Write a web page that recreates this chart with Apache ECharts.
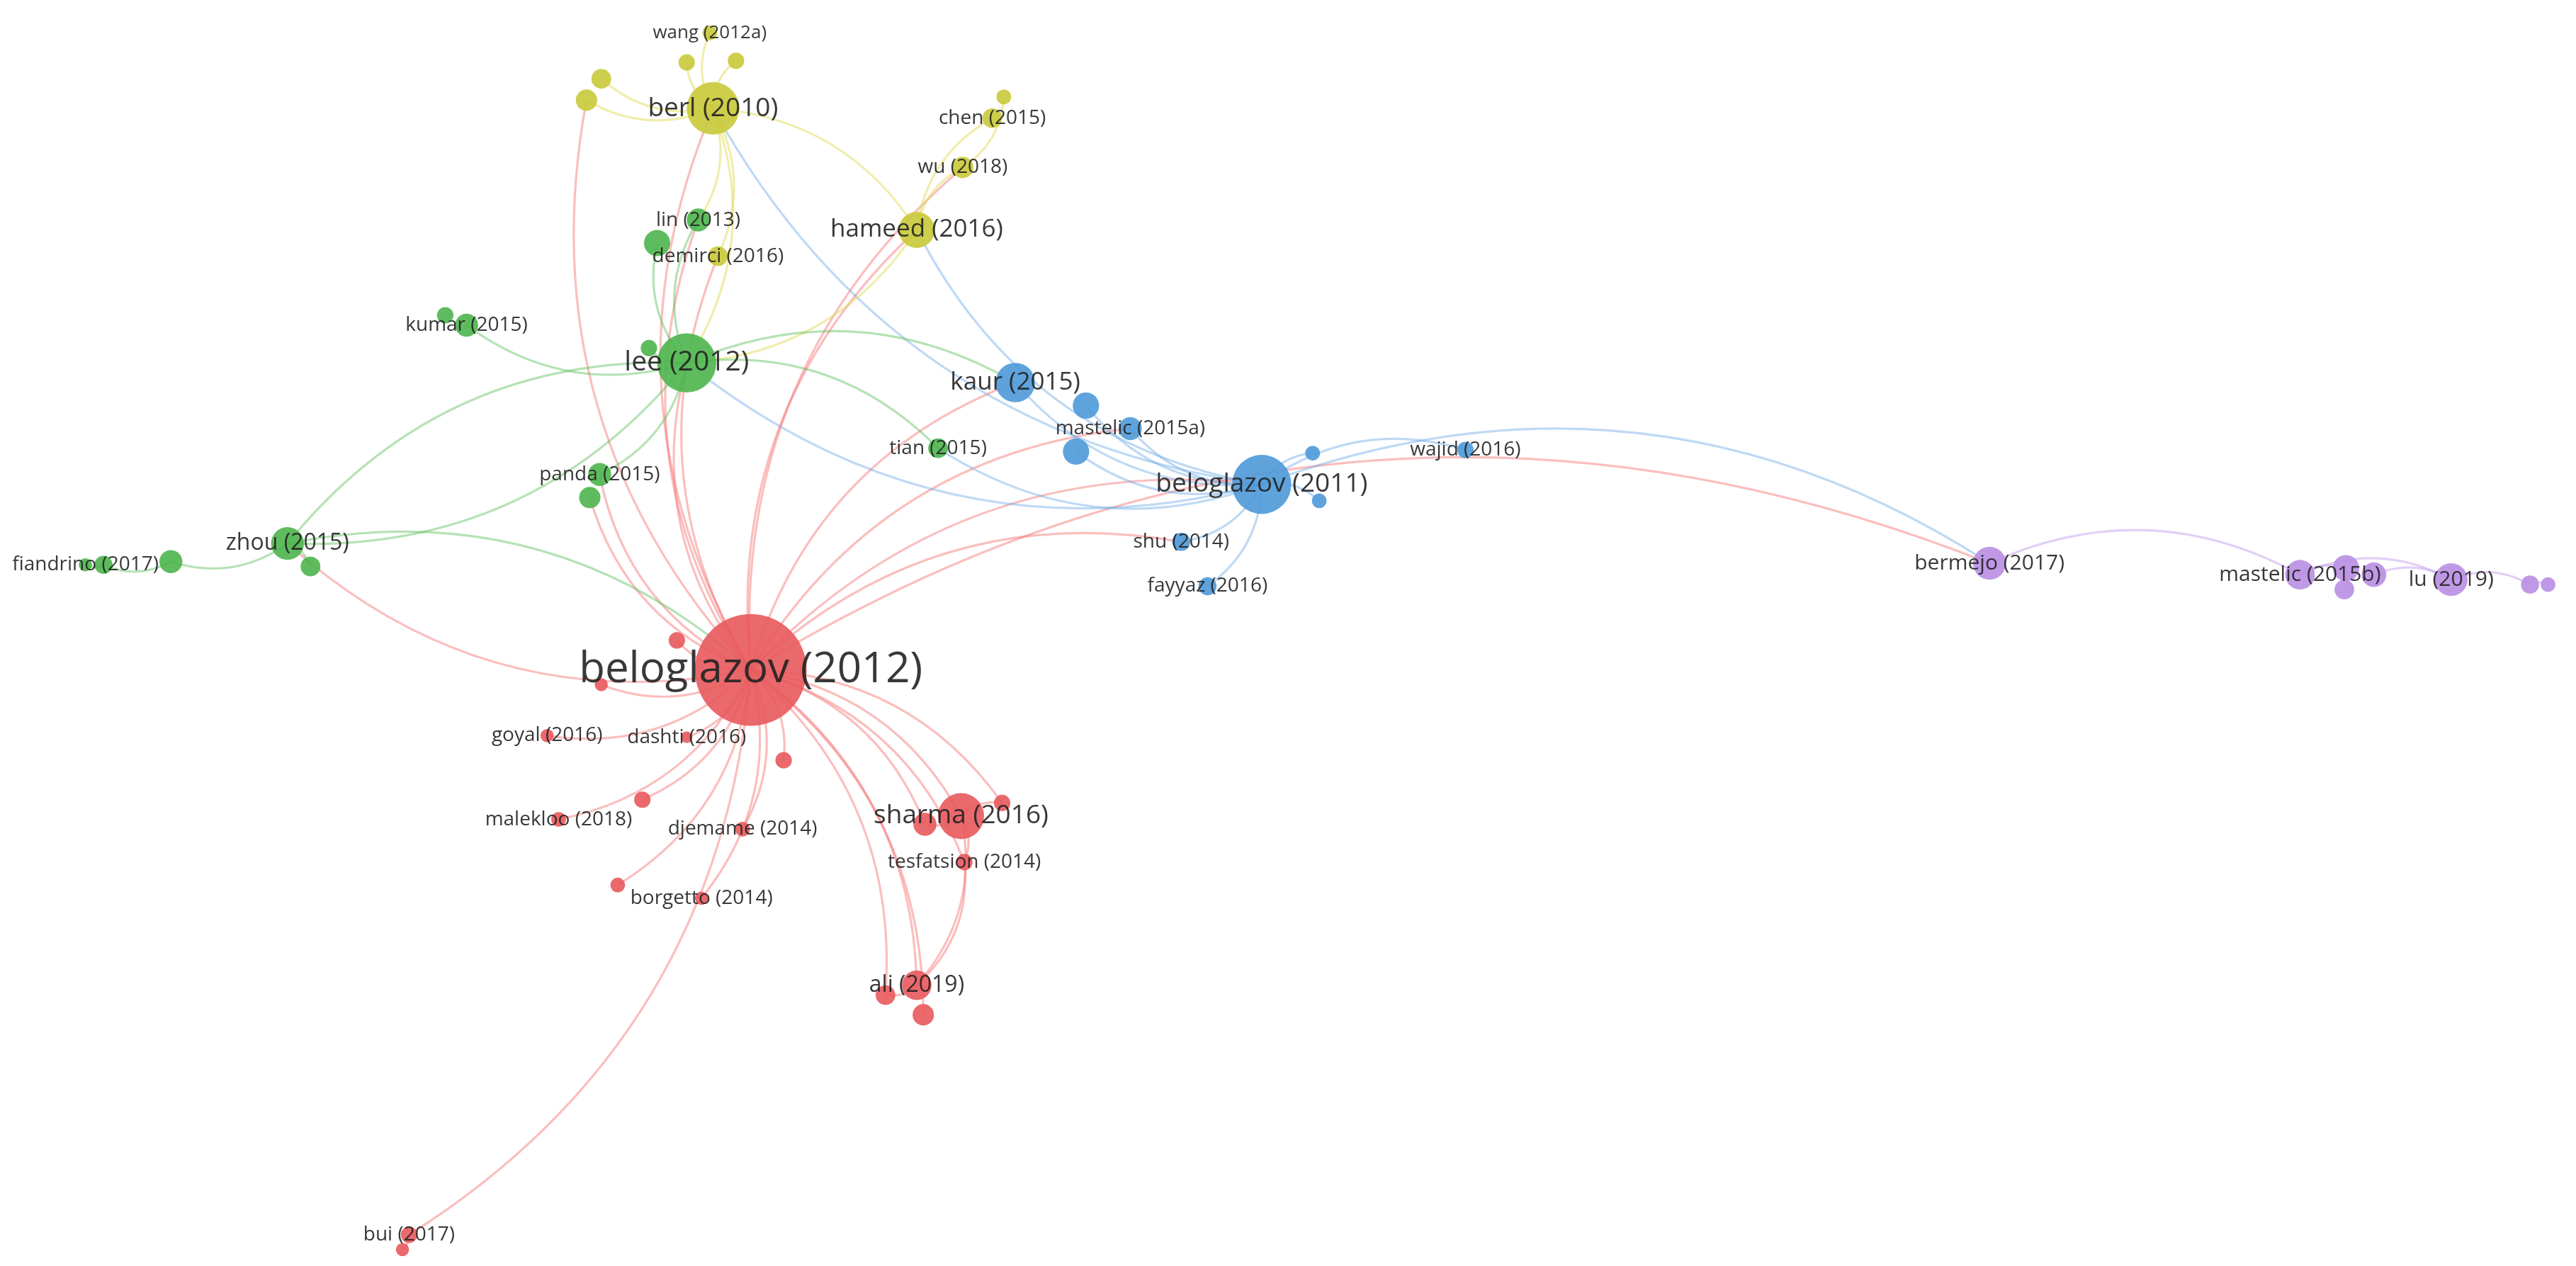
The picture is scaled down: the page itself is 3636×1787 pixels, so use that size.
<!DOCTYPE html>
<html><head><meta charset="utf-8">
<script src="https://cdn.jsdelivr.net/npm/echarts@6/dist/echarts.min.js"></script>
<style>html,body{margin:0;padding:0;background:#fff}#c{width:3636px;height:1787px}</style>
</head><body><div id="c"></div>
<script>
// node data (reference display units, ~1568 x 771)
const nodeIds   = ['b12','r1','r2','goyal','dashti','r3','r4','malekloo','djemame','r5','borgetto','sharma','r6','r7','tesf','ali','r8','r9','bui','r10',
 'lee','g1','lin','g2','kumar','g3','panda','g4','tian','zhou','g5','g6','g7','fiand',
 'berl','y1','y2','y3','y4','wang','hameed','chen','y5','wu','demirci',
 'b11','kaur','c1','mast15a','c2','c3','c4','wajid','shu','fayyaz',
 'bermejo','mast15b','p1','p2','p3','lu','p4','p5'];
const nodeLabels = ['beloglazov (2012)','','','goyal (2016)','dashti (2016)','','','malekloo (2018)','djemame (2014)','','borgetto (2014)','sharma (2016)','','','tesfatsion (2014)','ali (2019)','','','bui (2017)','',
 'lee (2012)','','lin (2013)','','kumar (2015)','','panda (2015)','','tian (2015)','zhou (2015)','','','','fiandrino (2017)',
 'berl (2010)','','','','','wang (2012a)','hameed (2016)','chen (2015)','','wu (2018)','demirci (2016)',
 'beloglazov (2011)','kaur (2015)','','mastelic (2015a)','','','','wajid (2016)','shu (2014)','fayyaz (2016)',
 'bermejo (2017)','mastelic (2015b)','','','','lu (2019)','',''];
const nodeX = [457,412,366,333,418,477,391,340,452,376,427,585,563,610,587,558,539,562,249,245,
 418,395,425,400,284,271,365,359,571,175,189,104,63,52,
 434,366,357,418,448,432,558,604,611,586,437,
 768,618,661,688,655,799,803,892,719,735,
 1211,1400,1428,1427,1445,1492,1540,1551];
const nodeY = [408,390,417,448,449,463,487,499,505,539,547,497,502,489,525,600,606,618,752,761,
 221,212,134,148,198,192,289,303,273,331,345,342,344,344,
 66,48,61,38,37,20,140,72,59,102,156,
 295,233,247,261,275,276,305,274,330,357,
 343,350,346,359,350,353,356,356];
const nodeSize = [68,10,8,8,7,10,10,9,9,9,8,28,14,10,10,18,12,13,10,8,
 36,10,14,16,14,10,14,13,12,20,12,14,11,8,
 32,12,13,10,10,9,22,12,9,13,12,
 36,24,16,14,16,9,9,10,11,11,
 20,18,16,12,15,20,11,9];
const labelSize = [26,0,0,12,12,0,0,12,12,0,12,16,0,0,12,14,0,0,12,0,
 17,0,12,0,12,0,12,0,12,14,0,0,0,12,
 16,0,0,0,0,11,15,12,0,12,12,
 16,15,0,12,0,0,0,12,12,12,
 13,13,0,0,0,13,0,0];
const nodeCluster = [0,0,0,0,0,0,0,0,0,0,0,0,0,0,0,0,0,0,0,0,
 1,1,1,1,1,1,1,1,1,1,1,1,1,1,
 2,2,2,2,2,2,2,2,2,2,2,
 3,3,3,3,3,3,3,3,3,3,
 4,4,4,4,4,4,4,4];
const edgeSource = ['b12','b12','b12','b12','b12','b12','b12','b12','b12','b12','b12','b12','b12','b12','b12','b12','b12','b12',
 'b12','b12','b12','b12','b12','b12','b12','b12','b12','b12','b12','b12','b12','b12','b12',
 'b11','b11','b11','b11','b11','b11','b11','b11','b11','b11','b11','b11','b11','b11',
 'berl','berl','berl','berl','berl','berl','berl','berl','berl',
 'hameed','hameed','hameed','y5',
 'lee','lee','lee','lee','lee','lee','lee','lee',
 'zhou','zhou','zhou','zhou','g6','g7',
 'sharma','sharma','sharma','sharma','tesf','ali','bui',
 'bermejo','mast15b','mast15b','p1','p3','lu','p4'];
const edgeTarget = ['r1','r2','goyal','dashti','r3','r4','malekloo','djemame','r5','borgetto','sharma','r6','tesf','ali','r8','r9','bui','r7',
 'lee','lin','panda','zhou','g4','berl','y2','hameed','wu','demirci','kaur','b11','mast15a','shu','bermejo',
 'kaur','c1','mast15a','c2','c3','c4','wajid','shu','fayyaz','bermejo','lee','tian','berl','hameed',
 'y1','y2','y3','y4','wang','lin','demirci','lee','hameed',
 'chen','wu','lee','wu',
 'kumar','panda','zhou','lin','g2','tian','kaur','g1',
 'g5','g6','lee','b12','g7','fiand',
 'tesf','ali','r6','r7','ali','r8','r10',
 'mast15b','lu','p1','p2','lu','p4','p5'];

const W = 3636, H = 1787, S = W / 1568;
const colors = ['#e8595c', '#4cb54c', '#c9c93a', '#4e99d8', '#b98ee3'];
const edgeColors = ['rgba(245,110,110,0.45)', 'rgba(90,190,90,0.45)', 'rgba(225,220,90,0.5)', 'rgba(110,170,230,0.45)', 'rgba(190,150,235,0.45)'];
const idx = {};
nodeIds.forEach((id, i) => idx[id] = i);

const nodes = nodeIds.map((id, i) => ({
  id: id, name: nodeLabels[i] || id,
  value: [nodeX[i], nodeY[i]],
  symbolSize: nodeSize[i] * S,
  itemStyle: { color: colors[nodeCluster[i]], opacity: 0.9 },
  label: {
    show: !!nodeLabels[i], position: 'inside',
    formatter: nodeLabels[i],
    fontSize: Math.round((labelSize[i] || 12) * S),
    color: '#222', fontFamily: 'Open Sans'
  }
}));
const links = edgeSource.map((s, k) => ({
  source: s, target: edgeTarget[k],
  lineStyle: { color: edgeColors[nodeCluster[idx[s]]] }
}));

const chart = echarts.init(document.getElementById('c'));
chart.setOption({
  backgroundColor: '#fff',
  animation: false,
  grid: { left: 0, right: 0, top: 0, bottom: 0 },
  xAxis: { type: 'value', min: 0, max: 1568, show: false },
  yAxis: { type: 'value', min: 0, max: 771, inverse: true, show: false },
  series: [{
    type: 'graph', coordinateSystem: 'cartesian2d',
    data: nodes, links: links,
    lineStyle: { width: 3.2, curveness: 0.25, opacity: 1 },
    labelLayout: { hideOverlap: false },
    z: 2
  }]
});
</script></body></html>
